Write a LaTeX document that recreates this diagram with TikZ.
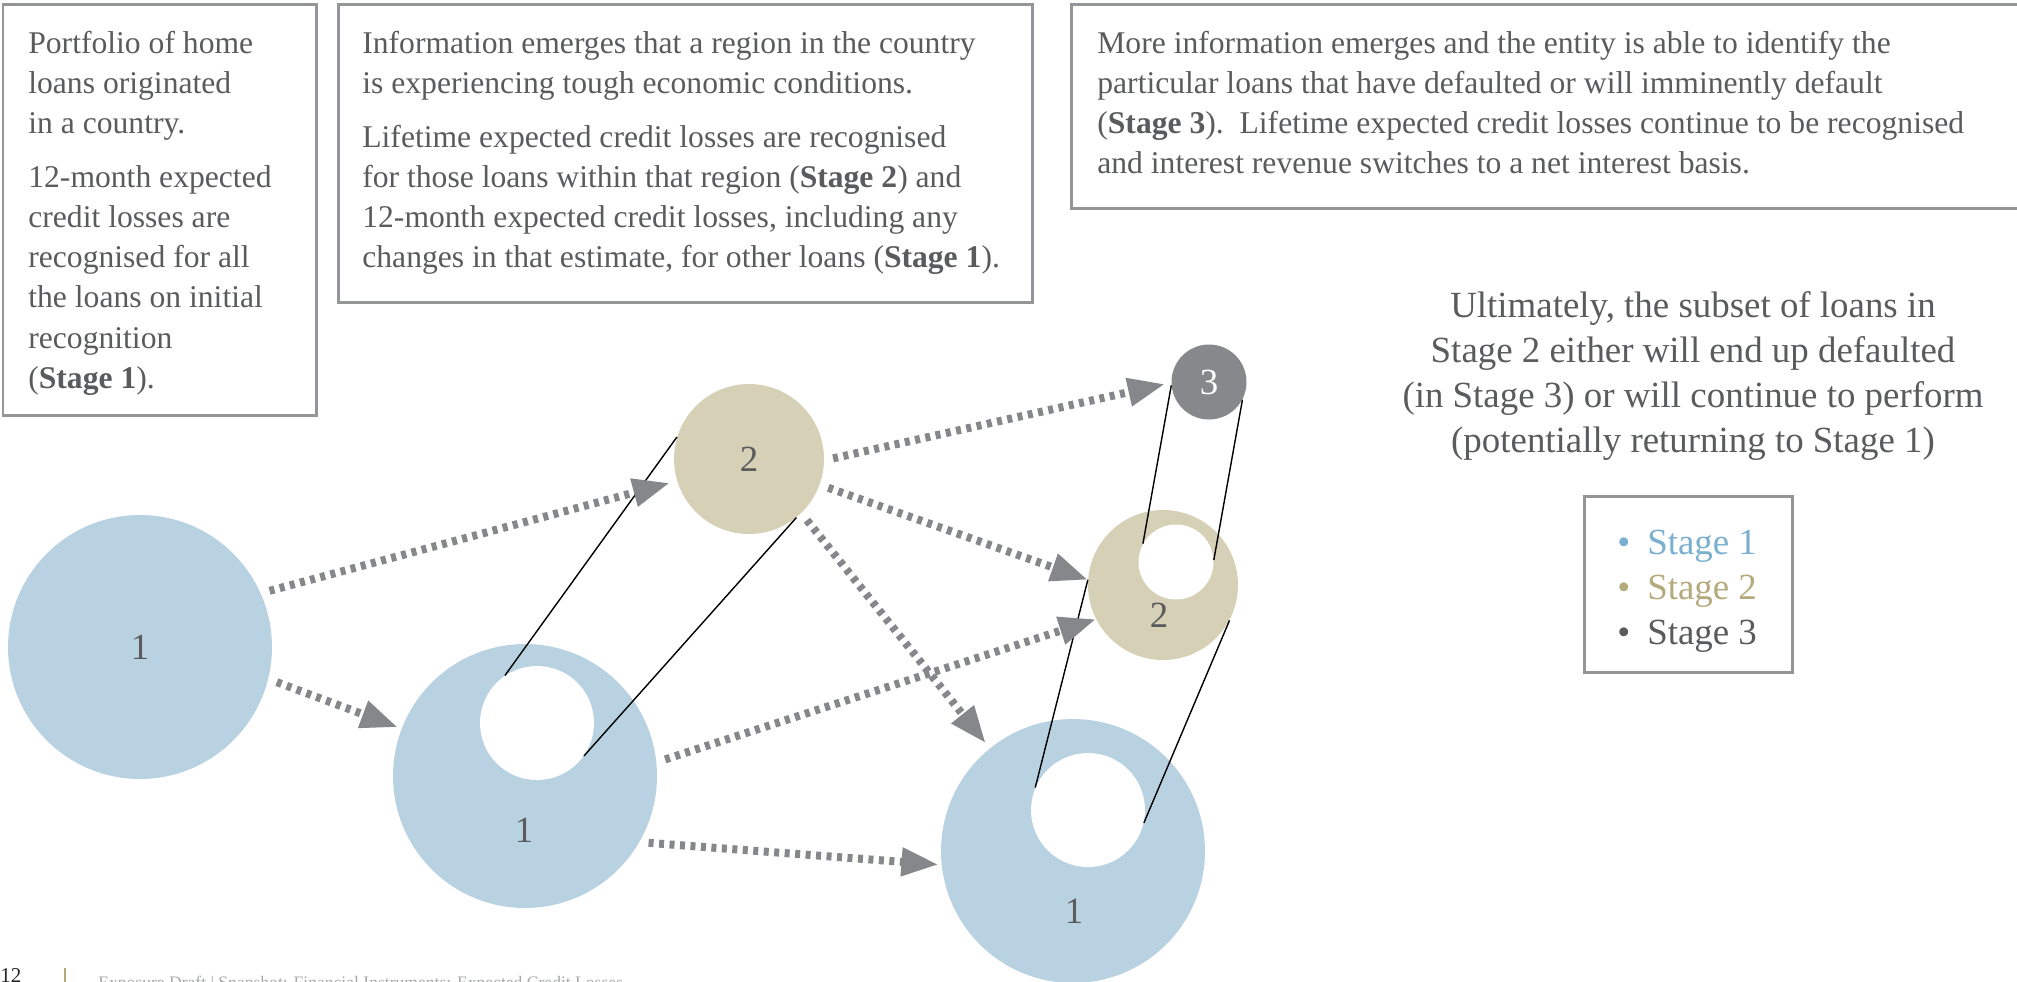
\documentclass[tikz,border=0pt]{standalone}
\usepackage{fontspec}
\setmainfont{Liberation Serif}
\usetikzlibrary{arrows.meta}

\definecolor{txtgray}{HTML}{5A5B5D}
\definecolor{framegray}{HTML}{939598}
\definecolor{stoneblue}{HTML}{B9D2E2}
\definecolor{stonetan}{HTML}{D6D0B6}
\definecolor{stonegray}{HTML}{87888C}
\definecolor{keyblue}{HTML}{7AAFD0}
\definecolor{keytan}{HTML}{B5AA7C}
\definecolor{flowgray}{HTML}{86878B}
\definecolor{footgray}{HTML}{A7A9AC}

\begin{document}
\begin{tikzpicture}[x=0.02cm,y=-0.02cm,
  memo/.style={anchor=north west,inner sep=0,align=left,text=txtgray,font=\fontsize{18}{22.8}\selectfont},
  waku/.style={draw=framegray,line width=0.06cm},
  ball/.style={circle,inner sep=0,draw=none,text=txtgray,font=\fontsize{21}{25}\selectfont},
  ballL/.style={ball,minimum size=5.28cm},
  ballM/.style={ball,minimum size=3cm},
  ballS/.style={ball,minimum size=1.5cm},
  hole/.style={circle,inner sep=0,fill=white,minimum size=#1},
  tie/.style={line width=0.8pt,black},
  flow/.style={draw=flowgray,line width=0.16cm,dash pattern=on 0.1cm off 0.11cm,
    -{Triangle[length=0.74cm,width=0.54cm]},shorten <=0.18cm,shorten >=0.08cm}]
   \useasboundingbox (0,0) rectangle (2017,981);

   % 説明の枠
   \draw[waku] (3,4) rectangle (316,415);
   \draw[waku] (338,4) rectangle (1032,302);
   \draw[waku] (1071,4) rectangle (2040,208);

   \node[memo] (note1) at (28,31) {Portfolio of home\\loans originated\\in a country.\\[0.28cm]
     12-month expected\\credit losses are\\recognised for all\\the loans on initial\\recognition\\(\textbf{Stage 1}).};
   \node[memo] (note2) at (362,31) {Information emerges that a region in the country\\
     is experiencing tough economic conditions.\\[0.28cm]
     Lifetime expected credit losses are recognised\\
     for those loans within that region (\textbf{Stage 2}) and\\
     12-month expected credit losses, including any\\
     changes in that estimate, for other loans (\textbf{Stage 1}).};
   \node[memo] (note3) at (1097,31) {More information emerges and the entity is able to identify the\\
     particular loans that have defaulted or will imminently default\\
     (\textbf{Stage 3}).\ \ Lifetime expected credit losses continue to be recognised\\
     and interest revenue switches to a net interest basis.};

   \node[anchor=north,align=center,inner sep=0,text=txtgray,font=\fontsize{21}{25.6}\selectfont] (ultim) at (1693,291)
     {Ultimately, the subset of loans in\\Stage 2 either will end up defaulted\\(in Stage 3) or will continue to perform\\(potentially returning to Stage 1)};

   % 凡例
   \draw[waku] (1584,496) rectangle (1792,672);
   \node[anchor=north west,inner sep=0,align=left,font=\fontsize{21}{25.6}\selectfont] (legend) at (1617,530)
     {\textcolor{keyblue}{\textbullet\hspace{0.34cm}Stage 1}\\
      \textcolor{keytan}{\textbullet\hspace{0.34cm}Stage 2}\\
      \textcolor{txtgray}{\textbullet\hspace{0.34cm}Stage 3}};

   % 円
   \node[ballL,fill=stoneblue] (A) at (140,647) {1};
   \node[ballL,fill=stoneblue] (B) at (525,776) {};
   \node[ballM,fill=stonetan] (C) at (749,459) {2};
   \node[ballS,fill=stonegray,text=white] (D) at (1209,382) {3};
   \node[ballM,fill=stonetan] (E) at (1163,585) {};
   \node[ballL,fill=stoneblue] (F) at (1073,851) {};

   \node[hole=2.28cm] (Bh) at (537,723) {};
   \node[hole=1.5cm] (Eh) at (1176,562) {};
   \node[hole=2.28cm] (Fh) at (1088,810) {};

   \node[ball] (Bn) at (524,830) {1};
   \node[ball] (En) at (1159,615) {2};
   \node[ball] (Fn) at (1074,911) {1};

   % 補助線
   \draw[tie] (Bh.124) -- (C.163);
   \draw[tie] (Bh.-35) -- (C.-51);
   \draw[tie] (Fh.157) -- (E.176);
   \draw[tie] (Fh.-13) -- (E.-28);
   \draw[tie] (Eh.151) -- (D.185);
   \draw[tie] (Eh.3) -- (D.-28);

   % 矢印
   \draw[flow,shorten >=0.15cm] (A.24) -- (C.197);
   \draw[flow] (A.-14) -- (B.159);
   \draw[flow,shorten >=0.13cm] (C.-1) -- (D.181);
   \draw[flow,shorten >=0pt] (C.-20) -- (E.176);
   \draw[flow,shorten >=0.13cm] (C.-46) -- (F.129);
   \draw[flow,shorten >=0pt] (B.6) -- (E.207);
   \draw[flow,shorten >=0.06cm] (B.-30) -- (F.186);

   % ページ下
   \node[anchor=base west,inner sep=0,font=\fontsize{12}{14}\selectfont,text=black!85] (pageno) at (0,982) {12};
   \draw[keytan,line width=0.04cm] (65,968) -- (65,990);
   \node[anchor=base west,inner sep=0,font=\fontsize{10}{12}\selectfont,text=footgray] (foot) at (98,988)
     {Exposure Draft | Snapshot: Financial Instruments: Expected Credit Losses};
\end{tikzpicture}
\end{document}
